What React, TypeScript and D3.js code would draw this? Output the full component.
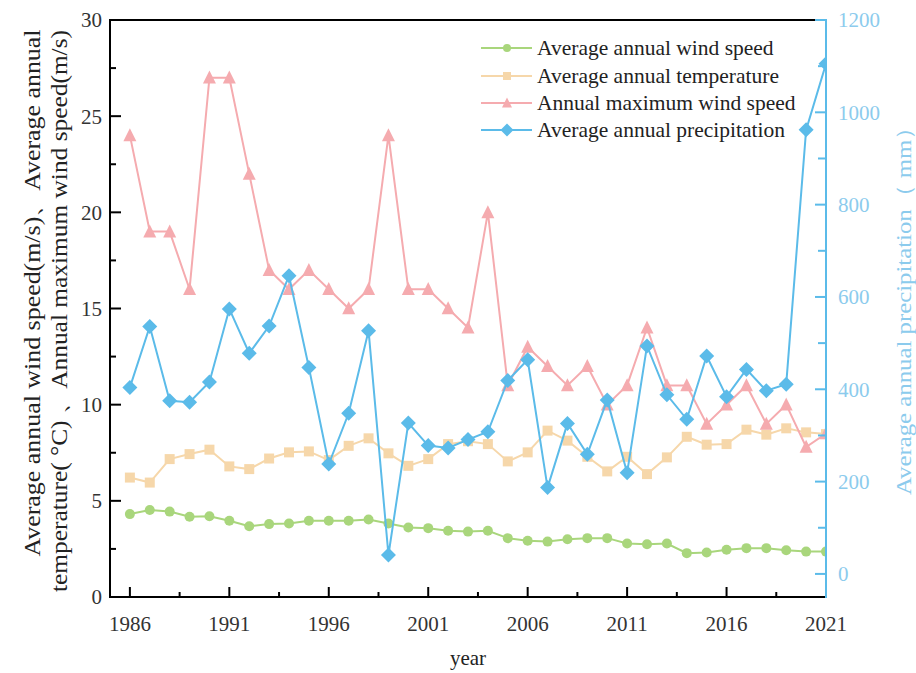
import React from "react";
import * as d3 from "d3";

// Years along the x axis
const years = [
  1986, 1987, 1988, 1989, 1990, 1991, 1992, 1993, 1994, 1995, 1996, 1997,
  1998, 1999, 2000, 2001, 2002, 2003, 2004, 2005, 2006, 2007, 2008, 2009,
  2010, 2011, 2012, 2013, 2014, 2015, 2016, 2017, 2018, 2019, 2020, 2021,
];

// Average annual wind speed (m/s)
const windAvg = [
  4.31, 4.52, 4.44, 4.17, 4.2, 3.96, 3.68, 3.79, 3.82, 3.96, 3.96, 3.96,
  4.03, 3.82, 3.61, 3.58, 3.44, 3.4, 3.44, 3.06, 2.92, 2.88, 3.0, 3.06,
  3.06, 2.78, 2.74, 2.78, 2.28, 2.31, 2.46, 2.54, 2.54, 2.43, 2.36, 2.36,
];

// Average annual temperature (°C)
const tempAvg = [
  6.21, 5.95, 7.17, 7.43, 7.66, 6.79, 6.65, 7.2, 7.52, 7.57, 7.12, 7.86,
  8.25, 7.47, 6.82, 7.17, 7.95, 8.1, 7.95, 7.05, 7.52, 8.65, 8.13, 7.29,
  6.53, 7.29, 6.39, 7.26, 8.33, 7.92, 7.95, 8.7, 8.44, 8.77, 8.56, 8.47,
];

// Annual maximum wind speed (m/s)
const windMax = [
  24, 19, 19, 16, 27, 27, 22, 17, 16, 17, 16, 15, 16, 24, 16, 16, 15, 14,
  20, 11, 13, 12, 11, 12, 10, 11, 14, 11, 11, 9, 10, 11, 9, 10, 7.8, 8.5,
];

// Average annual precipitation (mm)
const precip = [
  404, 536, 375, 372, 416, 574, 478, 537, 646, 447, 238, 348, 527, 41, 327,
  278, 273, 291, 308, 419, 464, 187, 326, 259, 377, 219, 494, 388, 335, 472,
  384, 443, 397, 411, 962, 1105,
];

const xTicks = [1986, 1991, 1996, 2001, 2006, 2011, 2016, 2021];
const xMinor = [1988.5, 1993.5, 1998.5, 2003.5, 2008.5, 2013.5, 2018.5];
const leftTicks = [0, 5, 10, 15, 20, 25, 30];
const leftMinor = [2.5, 7.5, 12.5, 17.5, 22.5, 27.5];
const rightTicks = [0, 200, 400, 600, 800, 1000, 1200];
const rightMinor = [100, 300, 500, 700, 900, 1100];

const legendLabels = [
  "Average annual wind speed",
  "Average annual temperature",
  "Annual maximum wind speed",
  "Average annual precipitation",
];

const GREEN = "#a9d67c";
const TAN = "#f6d7aa";
const PINK = "#f5abaf";
const BLUE = "#5bbbe9";
const BLUE_TEXT = "#8ccbed";
const FONT = "'Liberation Serif', 'Times New Roman', serif";

const W = 916;
const H = 673;
const L = 110;
const R = 826;
const T = 20;
const B = 597;

type Shape = "circle" | "square" | "triangle" | "diamond";

function markerPath(shape: Shape, s: number): string {
  if (shape === "circle") {
    return `M${s},0A${s},${s} 0 1,1 ${-s},0A${s},${s} 0 1,1 ${s},0Z`;
  }
  if (shape === "square") {
    return `M${-s},${-s}H${s}V${s}H${-s}Z`;
  }
  if (shape === "triangle") {
    return `M0,${-s * 1.1}L${s},${s * 0.9}L${-s},${s * 0.9}Z`;
  }
  return `M0,${-s}L${s},0L0,${s}L${-s},0Z`;
}

export default function App() {
  const x = d3.scaleLinear().domain([1985, 2021]).range([L, R]);
  const yL = d3.scaleLinear().domain([0, 30]).range([B, T]);
  const yR = d3.scaleLinear().domain([-50, 1200]).range([B, T]);

  const series = [
    { values: windAvg, y: yL, color: GREEN, shape: "circle" as Shape, size: 5, lSize: 4 },
    { values: tempAvg, y: yL, color: TAN, shape: "square" as Shape, size: 5, lSize: 4 },
    { values: windMax, y: yL, color: PINK, shape: "triangle" as Shape, size: 6.5, lSize: 5 },
    { values: precip, y: yR, color: BLUE, shape: "diamond" as Shape, size: 7.5, lSize: 6.5 },
  ];

  const legendX = 481;
  const legendRows = [48, 76, 103, 130];

  return (
    <svg width={W} height={H} style={{ display: "block", position: "absolute", left: 0, top: 0 }}>
      <rect width={W} height={H} fill="#fff" />
      <defs>
        <clipPath id="plotClip">
          <rect x={L - 20} y={0} width={R - L + 20} height={H} />
        </clipPath>
      </defs>

      {/* frame */}
      <line x1={L} x2={R} y1={T} y2={T} stroke="#000" strokeWidth={2} />
      <line x1={L} x2={R} y1={B} y2={B} stroke="#000" strokeWidth={2} />
      <line x1={L} x2={L} y1={T - 1} y2={B + 1} stroke="#000" strokeWidth={2} />

      {/* bottom axis ticks */}
      {xTicks.map((t) => (
        <g key={`xt${t}`}>
          <line x1={x(t)} x2={x(t)} y1={B} y2={B - 10} stroke="#000" strokeWidth={2} />
          <text x={x(t)} y={631} textAnchor="middle" fontFamily={FONT} fontSize={21} fill="#333">
            {t}
          </text>
        </g>
      ))}
      {xMinor.map((t) => (
        <line key={`xm${t}`} x1={x(t)} x2={x(t)} y1={B} y2={B - 5} stroke="#000" strokeWidth={2} />
      ))}

      {/* left axis ticks */}
      {leftTicks.map((t) => (
        <g key={`lt${t}`}>
          <line x1={L} x2={L + 11} y1={yL(t)} y2={yL(t)} stroke="#000" strokeWidth={2} />
          <text x={102} y={yL(t)} dy="0.35em" textAnchor="end" fontFamily={FONT} fontSize={21} fill="#333">
            {t}
          </text>
        </g>
      ))}
      {leftMinor.map((t) => (
        <line key={`lm${t}`} x1={L} x2={L + 6} y1={yL(t)} y2={yL(t)} stroke="#000" strokeWidth={2} />
      ))}

      {/* series */}
      <g clipPath="url(#plotClip)">
        {series.map((s, i) => {
          const line = d3
            .line<number>()
            .x((_, j) => x(years[j]))
            .y((v) => s.y(v));
          return (
            <g key={`s${i}`}>
              <path d={line(s.values) || ""} fill="none" stroke={s.color} strokeWidth={2} />
              {s.values.map((v, j) => (
                <path
                  key={j}
                  d={markerPath(s.shape, s.size)}
                  transform={`translate(${x(years[j])},${s.y(v)})`}
                  fill={s.color}
                />
              ))}
            </g>
          );
        })}
      </g>

      {/* right axis */}
      <line x1={R} x2={R} y1={T - 1} y2={B + 1} stroke={BLUE} strokeWidth={2} />
      {rightTicks.map((t) => (
        <g key={`rt${t}`}>
          <line x1={R} x2={R - 11} y1={yR(t)} y2={yR(t)} stroke={BLUE} strokeWidth={2} />
          <text x={838} y={yR(t)} dy="0.35em" textAnchor="start" fontFamily={FONT} fontSize={21} fill={BLUE_TEXT}>
            {t}
          </text>
        </g>
      ))}
      {rightMinor.map((t) => (
        <line key={`rm${t}`} x1={R} x2={R - 8} y1={yR(t)} y2={yR(t)} stroke={BLUE} strokeWidth={2} />
      ))}

      {/* axis titles */}
      <text x={468} y={665} textAnchor="middle" fontFamily={FONT} fontSize={21} fill="#222">
        year
      </text>
      <text
        transform="translate(40,293) rotate(-90)"
        textAnchor="middle"
        fontFamily={FONT}
        fontSize={24}
        fill="#222"
        textLength={527}
        lengthAdjust="spacingAndGlyphs"
      >
        Average annual wind speed(m/s)、Average annual
      </text>
      <text
        transform="translate(67,311) rotate(-90)"
        textAnchor="middle"
        fontFamily={FONT}
        fontSize={24}
        fill="#222"
        textLength={562}
        lengthAdjust="spacingAndGlyphs"
      >
        temperature( °C) 、Annual maximum wind speed(m/s)
      </text>
      <text
        transform="translate(911,305) rotate(-90)"
        textAnchor="middle"
        fontFamily={FONT}
        fontSize={21}
        fill={BLUE_TEXT}
        textLength={380}
        lengthAdjust="spacingAndGlyphs"
      >
        Average annual precipitation（ mm）
      </text>

      {/* legend */}
      {series.map((s, i) => (
        <g key={`lg${i}`} transform={`translate(${legendX},${legendRows[i]})`}>
          <line x1={0} x2={51} y1={0} y2={0} stroke={s.color} strokeWidth={2} />
          <path d={markerPath(s.shape, s.lSize)} transform="translate(26,0)" fill={s.color} />
          <text x={56} y={0} dy="0.33em" fontFamily={FONT} fontSize={21.5} fill="#222">
            {legendLabels[i]}
          </text>
        </g>
      ))}
    </svg>
  );
}
